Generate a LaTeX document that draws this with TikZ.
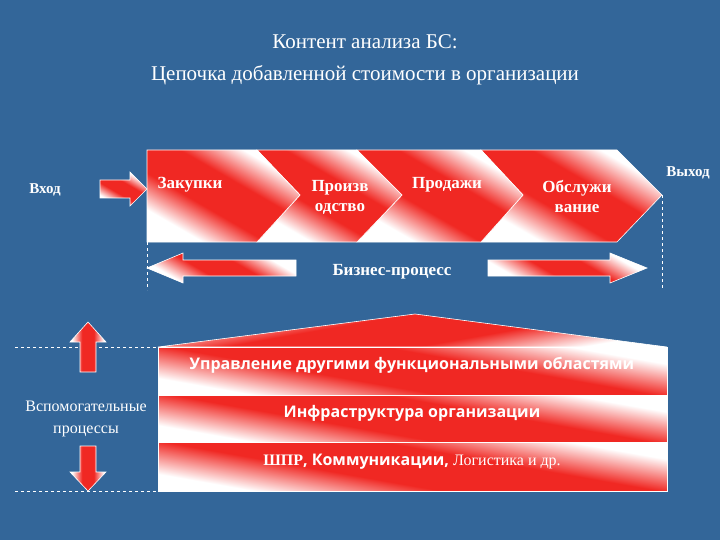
\documentclass[tikz,border=0pt]{standalone}
\usepackage{fontspec}
\setmainfont{Liberation Serif}
\newfontfamily\bandfont{Open Sans}
\definecolor{bg}{RGB}{51,102,153}
\definecolor{rd}{RGB}{240,40,35}
\pgfdeclarehorizontalshading{wr}{100bp}{color(0bp)=(white); color(28bp)=(white); color(42bp)=(rd); color(58bp)=(rd); color(72bp)=(white); color(100bp)=(white)}
\tikzset{
 red/.style={shading=wr, shading angle=60, draw=white, line width=0.6pt},
 wt/.style={text=white, font=\bfseries\fontsize{17}{20}\selectfont, align=center},
 ttl/.style={text=white, font=\fontsize{21}{24}\selectfont},
 band/.style={text=white, font=\bandfont\bfseries\fontsize{16}{18}\selectfont},
 dsh/.style={draw=white, dashed, line width=0.6pt}
}
\begin{document}
\begin{tikzpicture}[x=1pt,y=-1pt]
\fill[bg] (0,0) rectangle (720,540);
\useasboundingbox (0,0) rectangle (720,540);
\node[ttl] (t1) at (365,42) {Контент анализа БС:};
\node[ttl] (t2) at (365,75) {Цепочка добавленной стоимости в организации};
% chevrons
\path[red] (481,150) -- (617,150) -- (662,195) -- (617,242) -- (481,242) -- (523,195) -- cycle;
\path[red] (357,150) -- (481,150) -- (523,195) -- (481,242) -- (357,242) -- (402,195) -- cycle;
\path[red] (257,150) -- (357,150) -- (402,195) -- (357,242) -- (257,242) -- (300,195) -- cycle;
\path[red] (147,150) -- (257,150) -- (300,195) -- (257,242) -- (147,242) -- cycle;
\node[wt] (c1) at (190,185) {Закупки};
\node[wt] (c2) at (340,197) {Произв\\одство};
\node[wt] (c3) at (447,185) {Продажи};
\node[wt] (c4) at (577,196) {Обслужи\\вание};
\node[text=white, font=\bfseries\fontsize{15}{17}\selectfont] (in) at (45,190) {Вход};
\node[text=white, font=\bfseries\fontsize{15}{17}\selectfont] (out) at (688,173) {Выход};
\path[red] (100,180) -- (130,180) -- (130,172) -- (147,189) -- (130,206) -- (130,198) -- (100,198) -- cycle;
\coordinate (d1a) at (147,242); \coordinate (d1b) at (147,290);
\coordinate (d2a) at (662,195); \coordinate (d2b) at (662,290);
\draw[dsh] (d1a) -- (d1b);
\draw[dsh] (d2a) -- (d2b);
\path[red] (296,260) -- (183,260) -- (183,253) -- (147,268) -- (183,283) -- (183,276) -- (296,276) -- cycle;
\path[red] (488,260) -- (610,260) -- (610,253) -- (647,268) -- (610,283) -- (610,276) -- (488,276) -- cycle;
\node[wt] (bp) at (392,272) {Бизнес-процесс};
% roof and bands
\path[red, shading angle=100] (158,347) -- (415,314) -- (667,347) -- cycle;
\path[red, shading angle=80] (158,347) rectangle (667,395);
\path[red, shading angle=80] (158,395) rectangle (667,442);
\path[red, shading angle=80] (158,442) rectangle (667,491);
\node[band] (b1) at (412,365) {Управление другими функциональными областями};
\node[band] (b2) at (412,413) {Инфраструктура организации};
\node[band] (b3) at (412,462) {{\rmfamily ШПР}, Коммуникации, {\rmfamily\mdseries Логистика и др.}};
\coordinate (h1a) at (15,347); \coordinate (h1b) at (158,347);
\coordinate (h2a) at (15,491); \coordinate (h2b) at (158,491);
\draw[dsh] (h1a) -- (h1b);
\draw[dsh] (h2a) -- (h2b);
\path[red, shading angle=0] (80,372) -- (80,342) -- (70,342) -- (88,322) -- (106,342) -- (96,342) -- (96,372) -- cycle;
\path[red, shading angle=0] (80,446) -- (80,472) -- (70,472) -- (88,491) -- (106,472) -- (96,472) -- (96,446) -- cycle;
\node[text=white, align=center, font=\fontsize{16}{22}\selectfont] (vp) at (86,419) {Вспомогательные\\процессы};
\end{tikzpicture}
\end{document}
